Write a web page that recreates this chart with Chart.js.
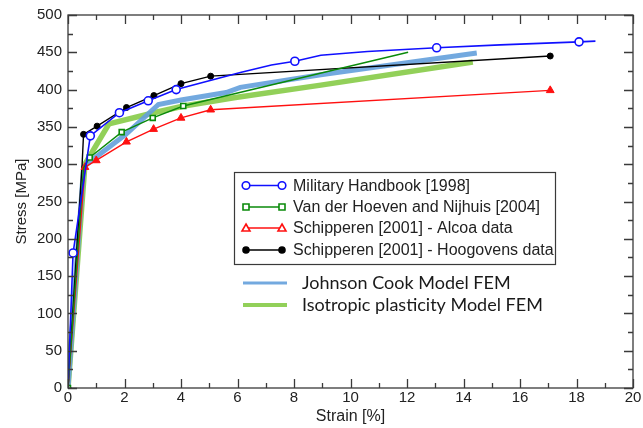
<!DOCTYPE html>
<html>
<head>
<meta charset="utf-8">
<script src="https://cdn.jsdelivr.net/npm/chart.js@4"></script>
<style>
html, body { margin: 0; padding: 0; background: #fff; }
#wrap { width: 643px; height: 428px; }
</style>
</head>
<body>
<div id="wrap"><canvas id="stressChart"></canvas></div>
<script>
// values: strain [%] and stress [MPa]
const milStrain = [0, 0.18, 0.79, 1.82, 2.84, 3.83, 6.1, 7.2, 8.03, 8.95, 10.6, 13.05, 15.3, 18.09, 18.67];
const milStress = [0, 181, 338, 369, 385, 400, 423, 433, 438, 446, 451, 456, 460, 464, 465];
const milMarks  = [0, 1, 1, 1, 1, 1, 0, 0, 1, 0, 0, 1, 0, 1, 0];

const vdhStrain = [0, 0.55, 0.77, 1.9, 3.0, 4.08, 12.04];
const vdhStress = [0, 295, 309, 343, 362, 378, 450];
const vdhMarks  = [1, 0, 1, 1, 1, 1, 0];

const alcoaStrain = [0, 0.6, 1.0, 2.07, 3.03, 4.0, 5.05, 17.07];
const alcoaStress = [0, 296, 305, 330, 347, 362, 373, 399];

const hoogStrain = [0, 0.5, 0.55, 1.03, 2.07, 3.04, 4.0, 5.05, 17.07];
const hoogStress = [0, 300, 340, 351, 376, 392, 408, 418, 445];
const hoogMarks  = [1, 0, 1, 1, 1, 1, 1, 1, 1];

const jcStrain = [0, 0.55, 0.9, 2.05, 3.2, 4.0, 5.6, 6.1, 8.95, 14.47];
const jcStress = [0, 296, 307, 340, 380, 386, 396, 403, 420, 449];

const isoStrain = [0, 0.6, 1.45, 3.04, 4.1, 5.87, 8.95, 14.33];
const isoStress = [0, 300, 354, 369, 378, 389, 406, 437];

const xTicks = [0, 2, 4, 6, 8, 10, 12, 14, 16, 18, 20];
const yTicks = [0, 50, 100, 150, 200, 250, 300, 350, 400, 450, 500];

const xTitle = 'Strain [%]';
const yTitle = 'Stress [MPa]';

const labelFont = '"Liberation Sans", Arial, sans-serif';

function pts(xs, ys) {
    return xs.map((v, i) => ({ x: v, y: ys[i] }));
}

// closed frame with inward ticks, and the two axis titles
const frameTicks = {
    id: 'frameTicks',
    afterDraw(chart) {
        const { ctx, chartArea: a, scales: { x, y } } = chart;
        ctx.save();
        ctx.strokeStyle = '#3a3a3a';
        ctx.lineWidth = 1.3;
        ctx.strokeRect(a.left, a.top, a.right - a.left, a.bottom - a.top);
        ctx.beginPath();
        for (let v = 0; v <= 20; v += 1) {
            const px = Math.round(x.getPixelForValue(v)) + 0.5;
            const len = v % 2 ? 5 : 9;
            ctx.moveTo(px, a.bottom); ctx.lineTo(px, a.bottom - len);
            ctx.moveTo(px, a.top); ctx.lineTo(px, a.top + len);
        }
        for (let v = 0; v <= 500; v += 25) {
            const py = Math.round(y.getPixelForValue(v)) + 0.5;
            const len = v % 50 ? 5 : 9;
            ctx.moveTo(a.left, py); ctx.lineTo(a.left + len, py);
            ctx.moveTo(a.right, py); ctx.lineTo(a.right - len, py);
        }
        ctx.stroke();

        ctx.fillStyle = '#222';
        ctx.font = '16px ' + labelFont;
        ctx.textAlign = 'center';
        ctx.textBaseline = 'middle';
        ctx.fillText(xTitle, (a.left + a.right) / 2, 417);
        ctx.translate(22, (a.top + a.bottom) / 2);
        ctx.rotate(-Math.PI / 2);
        ctx.font = '15px ' + labelFont;
        ctx.fillText(yTitle, 0, 0);
        ctx.restore();
    }
};

// legend box inside the plot, plus the two model lines below it
const boxLegend = {
    id: 'boxLegend',
    afterDraw(chart) {
        const ctx = chart.ctx;
        const ds = chart.data.datasets;
        ctx.save();
        ctx.fillStyle = '#fff';
        ctx.fillRect(234, 172, 321, 92);
        ctx.strokeStyle = '#3a3a3a';
        ctx.lineWidth = 1.2;
        ctx.strokeRect(234.5, 172.5, 321, 92);
        const rows = [185.5, 207, 228, 250];
        for (let i = 0; i < 4; i++) {
            const d = ds[i];
            const yy = rows[i];
            ctx.strokeStyle = d.borderColor;
            ctx.lineWidth = 1.6;
            ctx.beginPath(); ctx.moveTo(246, yy); ctx.lineTo(282, yy); ctx.stroke();
            [246, 282].forEach(px => drawMark(ctx, d.pointStyle, px, yy, d.borderColor, i === 3 ? '#000' : '#fff'));
            ctx.fillStyle = '#222';
            ctx.font = '16px ' + labelFont;
            ctx.textBaseline = 'middle';
            ctx.fillText(d.label, 293, yy + 1);
        }
        const extra = [[ds[4], 283, 3], [ds[5], 305, 4]];
        extra.forEach(([d, yy, w]) => {
            ctx.strokeStyle = d.borderColor;
            ctx.lineWidth = w;
            ctx.beginPath(); ctx.moveTo(243, yy); ctx.lineTo(287, yy); ctx.stroke();
            ctx.fillStyle = '#1a1a1a';
            ctx.font = '18px Lato, "Open Sans", sans-serif';
            ctx.textBaseline = 'middle';
            ctx.fillText(d.label, 302, yy);
        });
        ctx.restore();
    }
};

function drawMark(ctx, style, px, py, stroke, fill) {
    ctx.save();
    ctx.strokeStyle = stroke;
    ctx.fillStyle = fill;
    ctx.lineWidth = 1.6;
    ctx.beginPath();
    if (style === 'circle') {
        ctx.arc(px, py, fill === '#fff' ? 3.8 : 3, 0, Math.PI * 2);
    } else if (style === 'rect') {
        ctx.rect(px - 3, py - 3, 6, 6);
    } else if (style === 'triangle') {
        ctx.moveTo(px, py - 4); ctx.lineTo(px + 4, py + 3); ctx.lineTo(px - 4, py + 3); ctx.closePath();
    }
    ctx.fill();
    ctx.stroke();
    ctx.restore();
}

const ctx = document.getElementById('stressChart').getContext('2d');

const stressChart = new Chart(ctx, {
    type: 'line',
    data: {
        datasets: [
            {
                label: 'Military Handbook [1998]',
                data: pts(milStrain, milStress),
                borderColor: '#1010ff',
                borderWidth: 1.6,
                pointStyle: 'circle',
                pointRadius: milMarks.map(m => m ? 4 : 0),
                pointBorderWidth: 1.6,
                pointBackgroundColor: '#fff',
                order: 1
            },
            {
                label: 'Van der Hoeven and Nijhuis [2004]',
                data: pts(vdhStrain, vdhStress),
                borderColor: '#0a8a0a',
                borderWidth: 1.4,
                pointStyle: 'rect',
                pointRadius: vdhMarks.map(m => m ? 3.5 : 0),
                pointBorderWidth: 1.6,
                pointBackgroundColor: '#fff',
                order: 1
            },
            {
                label: 'Schipperen [2001] - Alcoa data',
                data: pts(alcoaStrain, alcoaStress),
                borderColor: '#ff1010',
                borderWidth: 1.4,
                pointStyle: 'triangle',
                pointRadius: 4.5,
                pointBorderWidth: 1,
                pointBackgroundColor: '#ff1010',
                order: 1
            },
            {
                label: 'Schipperen [2001] - Hoogovens data',
                data: pts(hoogStrain, hoogStress),
                borderColor: '#000',
                borderWidth: 1.4,
                pointStyle: 'circle',
                pointRadius: hoogMarks.map(m => m ? 3 : 0),
                pointBorderWidth: 1,
                pointBackgroundColor: '#000',
                order: 1
            },
            {
                label: 'Johnson Cook Model FEM',
                data: pts(jcStrain, jcStress),
                borderColor: 'rgba(100,160,220,0.9)',
                borderWidth: 5,
                pointRadius: 0,
                order: 2
            },
            {
                label: 'Isotropic plasticity Model FEM',
                data: pts(isoStrain, isoStress),
                borderColor: 'rgba(140,205,80,0.95)',
                borderWidth: 5.5,
                pointRadius: 0,
                order: 2
            }
        ]
    },
    options: {
        responsive: true,
        maintainAspectRatio: false,
        animation: false,
        layout: { padding: { top: 14, right: 10, left: 0, bottom: 0 } },
        plugins: {
            legend: { display: false },
            tooltip: { enabled: false }
        },
        scales: {
            x: {
                type: 'linear',
                min: 0,
                max: 20,
                afterBuildTicks: s => { s.ticks = xTicks.map(v => ({ value: v })); },
                afterFit: s => { s.height = 40; },
                grid: { display: false, drawTicks: false },
                border: { display: false },
                ticks: {
                    color: '#222',
                    padding: 1,
                    font: { family: labelFont, size: 15 }
                }
            },
            y: {
                type: 'linear',
                min: 0,
                max: 500,
                afterBuildTicks: s => { s.ticks = yTicks.map(v => ({ value: v })); },
                afterFit: s => { s.width = 68; },
                grid: { display: false, drawTicks: false },
                border: { display: false },
                ticks: {
                    color: '#222',
                    padding: 6,
                    font: { family: labelFont, size: 15 }
                }
            }
        }
    },
    plugins: [frameTicks, boxLegend]
});
</script>
</body>
</html>
